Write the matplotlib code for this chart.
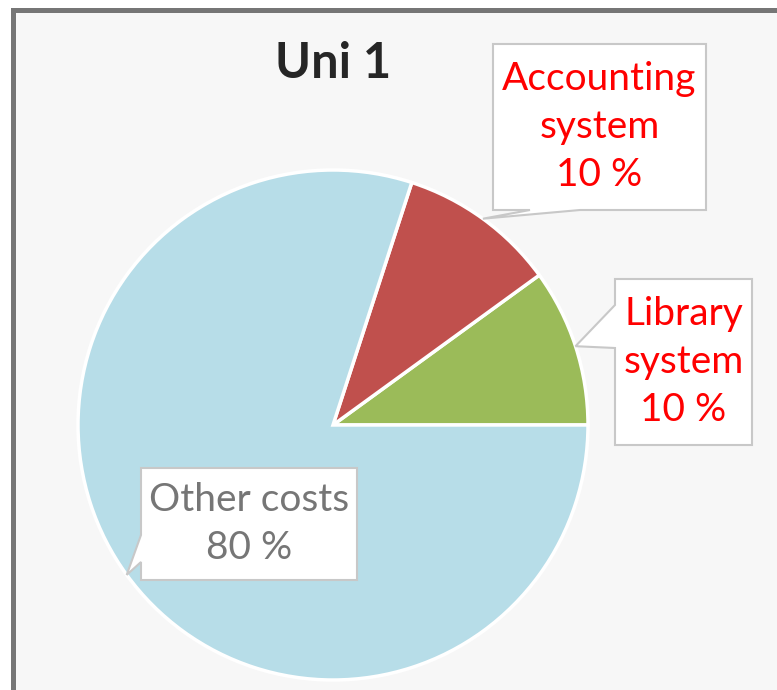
import numpy as np
import matplotlib
matplotlib.use("Agg")
import matplotlib.pyplot as plt
from matplotlib.patches import Polygon, Rectangle

# --- data -------------------------------------------------------------------
labels = ["Library system", "Accounting system", "Other costs"]
shares = [10, 10, 80]
label_text = ["Library\nsystem\n10 %", "Accounting\nsystem\n10 %", "Other costs\n80 %"]
slice_colors = ["#9bbb59", "#c0504d", "#b7dde8"]
text_colors = ["#ff0000", "#ff0000", "#767676"]
title = "Uni 1"

W, H = 777, 690
plt.rcParams["font.family"] = ["Lato", "DejaVu Sans"]

fig = plt.figure(figsize=(W / 100, H / 100), dpi=100)
fig.patch.set_facecolor("white")
ax = fig.add_axes([0, 0, 1, 1])

# pie centre / radius in pixel units (y measured from top, flipped below)
cx, cy, rad = 333, 425, 255
wedges, _ = ax.pie(shares, colors=slice_colors, startangle=0, counterclock=True,
                   center=(cx, H - cy), radius=rad,
                   wedgeprops=dict(edgecolor="white", linewidth=2.5))
ax.set_xlim(0, W); ax.set_ylim(0, H); ax.set_aspect("equal")
ax.set_axis_off()

# chart area background + frame (right/bottom run off the picture)
ax.add_patch(Rectangle((12.5, -50), W + 50, H - 9.5 + 50, facecolor="#f7f7f7",
                       edgecolor="#767676", linewidth=3.6, zorder=0))

ax.text(cx, H - 64, title, ha="center", va="center", fontsize=35,
        fontweight="bold", color="#262626")

# callout boxes: (left, top, right, bottom) in px from top-left, pointer side + base span
boxes = [
    ((615, 279, 752, 445), "left", (305, 348)),
    ((493, 44, 706, 210), "bottom", (530, 580)),
    ((141, 468, 357, 580), "left", (535, 562)),
]


def callout(box, side, base, tip, text, color):
    x0, y0, x1, y1 = box
    a, b = base
    if side == "left":
        pts = [(x0, y0), (x1, y0), (x1, y1), (x0, y1), (x0, b), tip, (x0, a)]
    else:
        pts = [(x0, y0), (x1, y0), (x1, y1), (b, y1), tip, (a, y1), (x0, y1)]
    pts = [(px, H - py) for px, py in pts]
    ax.add_patch(Polygon(pts, closed=True, facecolor="white", edgecolor="#c8c8c8",
                         linewidth=1.5, zorder=5))
    ax.text((x0 + x1) / 2, H - (y0 + y1) / 2, text, ha="center", va="center",
            fontsize=28, color=color, linespacing=1.42, zorder=6)


for w, box, txt, col in zip(wedges, boxes, label_text, text_colors):
    mid = np.deg2rad((w.theta1 + w.theta2) / 2)
    tip = (cx + rad * np.cos(mid), cy - rad * np.sin(mid))
    callout(box[0], box[1], box[2], tip, txt, col)

fig.savefig("out.png", dpi=100, facecolor=fig.get_facecolor())
